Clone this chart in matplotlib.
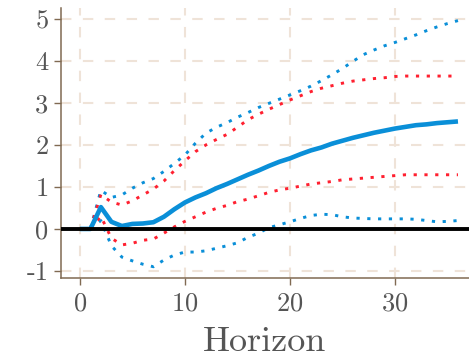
import numpy as np
import matplotlib
matplotlib.use("Agg")
import matplotlib.pyplot as plt

plt.rcParams['font.family'] = ['cmr10', 'DejaVu Serif']
plt.rcParams['mathtext.fontset'] = 'cm'
plt.rcParams['axes.formatter.use_mathtext'] = True
plt.rcParams['axes.unicode_minus'] = False

# impulse responses over the horizon
horizon = list(range(37))
irf_mean = [0.0, 0.0, 0.52, 0.17, 0.07, 0.12, 0.13, 0.16, 0.29, 0.47, 0.63, 0.75,
            0.85, 0.97, 1.07, 1.18, 1.29, 1.39, 1.5, 1.6, 1.68, 1.78, 1.87, 1.94,
            2.03, 2.1, 2.17, 2.23, 2.29, 2.34, 2.39, 2.43, 2.47, 2.49, 2.52, 2.54, 2.56]
blue_upper = [0.0, 0.0, 0.92, 0.75, 0.81, 0.97, 1.1, 1.2, 1.37, 1.56, 1.76, 2.04,
              2.28, 2.42, 2.53, 2.66, 2.77, 2.89, 2.99, 3.09, 3.19, 3.29, 3.4, 3.53,
              3.67, 3.82, 3.99, 4.15, 4.26, 4.36, 4.44, 4.53, 4.62, 4.72, 4.81, 4.89, 4.96]
blue_lower = [0.0, 0.0, 0.2, -0.4, -0.67, -0.76, -0.84, -0.9, -0.74, -0.62, -0.55, -0.55,
              -0.52, -0.46, -0.4, -0.33, -0.2, -0.1, 0.03, 0.1, 0.17, 0.25, 0.32, 0.35,
              0.34, 0.29, 0.26, 0.25, 0.24, 0.24, 0.24, 0.24, 0.23, 0.2, 0.17, 0.18, 0.2]
red_upper = [0.0, 0.0, 0.82, 0.64, 0.57, 0.67, 0.81, 0.95, 1.14, 1.39, 1.62, 1.84,
             2.0, 2.13, 2.25, 2.42, 2.6, 2.73, 2.85, 2.96, 3.07, 3.17, 3.27, 3.35,
             3.41, 3.47, 3.52, 3.55, 3.58, 3.6, 3.63, 3.64, 3.64, 3.64, 3.64, 3.64, 3.64]
red_lower = [0.0, 0.0, 0.3, -0.22, -0.38, -0.34, -0.27, -0.24, -0.1, 0.05, 0.18, 0.29,
             0.4, 0.49, 0.56, 0.65, 0.71, 0.79, 0.87, 0.93, 0.97, 1.02, 1.07, 1.1,
             1.13, 1.17, 1.19, 1.21, 1.23, 1.25, 1.27, 1.29, 1.29, 1.29, 1.29, 1.29, 1.29]

x_ticks = [0, 10, 20, 30]
y_ticks = [-1, 0, 1, 2, 3, 4, 5]

blue = '#0a8fd8'
red = '#ff2030'
spine_col = '#806a52'
grid_col = '#efe3d8'

fig = plt.figure(figsize=(4.69, 3.64), dpi=100)
ax = fig.add_axes([0.130, 0.236, 0.870, 0.742])

dots = (1.1, 2.6)
ax.plot(horizon, blue_upper, color=blue, lw=2.1, dashes=dots, zorder=3)
ax.plot(horizon, blue_lower, color=blue, lw=2.1, dashes=dots, zorder=3)
ax.plot(horizon, red_upper, color=red, lw=2.1, dashes=dots, zorder=3)
ax.plot(horizon, red_lower, color=red, lw=2.1, dashes=dots, zorder=3)
ax.plot(horizon, irf_mean, color=blue, lw=3.3, zorder=4, solid_capstyle='butt')
ax.axhline(0, color='black', lw=2.8, zorder=5)

ax.set_xlim(-1.8, 37.05)
ax.set_ylim(-1.17, 5.26)
ax.set_xticks(x_ticks)
ax.set_yticks(y_ticks)
ax.set_yticklabels([str(v) for v in y_ticks])

ax.grid(True, color=grid_col, lw=1.5, dashes=(5, 5.5))
ax.set_axisbelow(True)
for side in ['top', 'right']:
    ax.spines[side].set_visible(False)
for side in ['left', 'bottom']:
    ax.spines[side].set_color(spine_col)
    ax.spines[side].set_linewidth(1.1)

ax.tick_params(axis='both', direction='out', length=5, width=1.0, color=spine_col,
               labelcolor='#555555', labelsize=19, pad=4)
ax.tick_params(axis='x', pad=5)
ax.set_xlabel('Horizon', fontsize=26, color='#555555', labelpad=8)

fig.savefig('out.png', dpi=100, facecolor='white')
